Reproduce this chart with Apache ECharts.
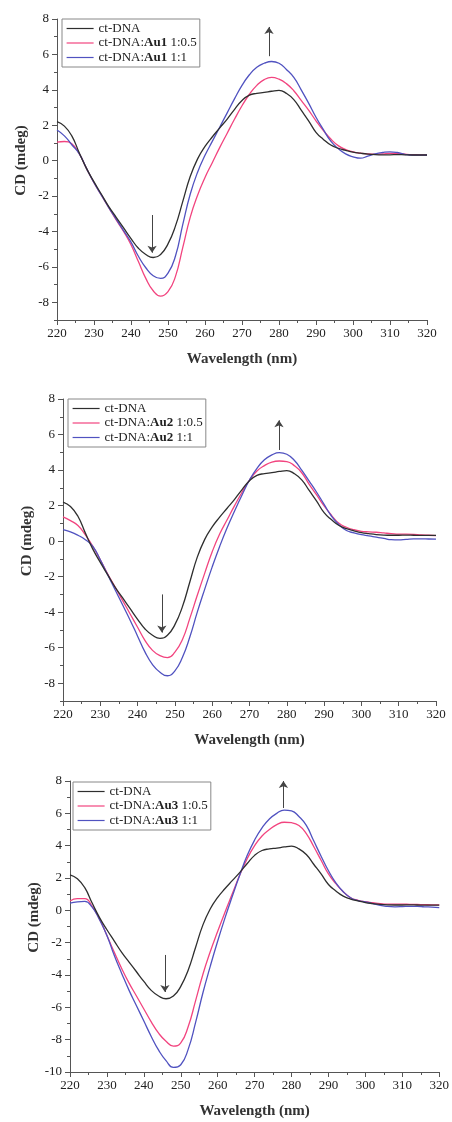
<!DOCTYPE html>
<html>
<head>
<meta charset="utf-8">
<script src="https://cdn.jsdelivr.net/npm/echarts@6/dist/echarts.min.js"></script>
<style>
  html, body { margin: 0; padding: 0; background: #fff; }
  #chart { width: 452px; height: 1122px; }
</style>
</head>
<body>
<div id="chart"></div>
<script>
// wavelength grid (nm)
const wavelengths = [220, 222, 224, 226, 228, 230, 232, 234, 236, 238, 240, 242, 244, 246, 248, 250, 252, 254, 256, 258,
  260, 262, 264, 266, 268, 270, 272, 274, 276, 278, 280, 282, 284, 286, 288, 290, 292, 294, 296, 298,
  300, 302, 304, 306, 308, 310, 312, 314, 316, 318, 320]

// ct-DNA alone (same in all three panels)
const ctDna = [2.2, 1.95, 1.4, 0.45, -0.45, -1.2, -1.9, -2.6, -3.2, -3.8, -4.4, -4.95, -5.3, -5.47, -5.3, -4.7, -3.7, -2.3, -0.9, 0.1,
  0.8, 1.35, 1.85, 2.35, 2.9, 3.4, 3.7, 3.8, 3.85, 3.92, 3.97, 3.8, 3.45, 2.85, 2.25, 1.6, 1.2, 0.88, 0.7, 0.58,
  0.48, 0.42, 0.37, 0.34, 0.33, 0.33, 0.34, 0.33, 0.32, 0.32, 0.32]

// Au1
const au1Half = [1.05, 1.08, 0.95, 0.4, -0.45, -1.25, -1.95, -2.65, -3.35, -4.0, -4.75, -5.7, -6.65, -7.35, -7.65, -7.4, -6.55, -4.9, -3.2, -1.95,
  -0.95, -0.1, 0.75, 1.55, 2.35, 3.1, 3.75, 4.25, 4.58, 4.7, 4.6, 4.35, 3.95, 3.4, 2.85, 2.25, 1.7, 1.22, 0.85, 0.63,
  0.5, 0.42, 0.38, 0.37, 0.38, 0.41, 0.41, 0.37, 0.34, 0.33, 0.32]
const au1Full = [1.73, 1.4, 0.9, 0.4, -0.45, -1.25, -1.95, -2.65, -3.3, -3.95, -4.6, -5.4, -6.05, -6.5, -6.65, -6.35, -5.4, -3.6, -1.9, -0.65,
  0.3, 1.1, 1.9, 2.7, 3.5, 4.25, 4.85, 5.28, 5.5, 5.6, 5.5, 5.15, 4.7, 4.0, 3.25, 2.45, 1.75, 1.1, 0.68, 0.38,
  0.22, 0.14, 0.25, 0.38, 0.46, 0.5, 0.46, 0.36, 0.31, 0.31, 0.32]

// Au2
const au2Half = [1.36, 1.15, 0.88, 0.35, -0.29, -1.05, -1.85, -2.6, -3.35, -4.1, -4.85, -5.6, -6.15, -6.45, -6.56, -6.25, -5.55, -4.35, -3.05, -1.8,
  -0.6, 0.4, 1.2, 2.0, 2.75, 3.44, 3.95, 4.25, 4.45, 4.51, 4.48, 4.25, 3.85, 3.2, 2.6, 1.98, 1.45, 1.0, 0.78, 0.64,
  0.55, 0.52, 0.5, 0.46, 0.42, 0.39, 0.39, 0.38, 0.35, 0.33, 0.31]
const au2Full = [0.65, 0.52, 0.33, 0.08, -0.29, -1.05, -1.9, -2.75, -3.6, -4.45, -5.35, -6.25, -6.95, -7.38, -7.58, -7.3, -6.55, -5.4, -4.0, -2.7,
  -1.45, -0.3, 0.75, 1.7, 2.6, 3.44, 4.1, 4.58, 4.85, 4.98, 4.89, 4.55, 4.0, 3.38, 2.75, 2.07, 1.4, 0.92, 0.6, 0.46,
  0.36, 0.3, 0.22, 0.15, 0.08, 0.07, 0.1, 0.13, 0.13, 0.12, 0.11]

// Au3
const au3Half = [0.58, 0.72, 0.72, 0.25, -0.55, -1.55, -2.6, -3.6, -4.5, -5.3, -6.1, -6.9, -7.6, -8.1, -8.4, -8.2, -7.2, -5.6, -3.95, -2.55,
  -1.3, -0.1, 1.05, 2.2, 3.2, 4.0, 4.6, 5.0, 5.3, 5.45, 5.42, 5.25, 4.75, 3.95, 3.1, 2.25, 1.65, 1.15, 0.78, 0.62,
  0.53, 0.47, 0.41, 0.38, 0.38, 0.38, 0.37, 0.36, 0.35, 0.34, 0.34]
const au3Full = [0.44, 0.52, 0.55, 0.2, -0.58, -1.55, -2.8, -3.9, -4.95, -5.9, -6.85, -7.8, -8.65, -9.3, -9.72, -9.55, -8.6, -6.95, -5.1, -3.45,
  -1.9, -0.45, 0.9, 2.2, 3.4, 4.35, 5.1, 5.65, 6.0, 6.2, 6.15, 5.8, 5.25, 4.3, 3.35, 2.45, 1.7, 1.15, 0.78, 0.6,
  0.52, 0.42, 0.3, 0.24, 0.22, 0.23, 0.25, 0.25, 0.22, 0.2, 0.17]

const complexes = ['Au1', 'Au2', 'Au3']
const halfSeries = [au1Half, au2Half, au3Half]
const fullSeries = [au1Full, au2Full, au3Full]

// arrows: [wavelength, from, to]
const downArrows = [[245.7, -3.07, -5.2], [246.5, -3.0, -5.15], [245.7, -2.76, -5.05]]
const upArrows = [[277.3, 5.9, 7.55], [277.9, 5.13, 6.8], [277.8, 6.33, 8]]

// y ranges
const yMins = [-9, -9, -10]
const yMax = 8
const yLabelValues = [[-8, -6, -4, -2, 0, 2, 4, 6, 8], [-8, -6, -4, -2, 0, 2, 4, 6, 8], [-10, -8, -6, -4, -2, 0, 2, 4, 6, 8]]
const yMinorValues = [[-9, -7, -5, -3, -1, 1, 3, 5, 7], [-9, -7, -5, -3, -1, 1, 3, 5, 7], [-9, -7, -5, -3, -1, 1, 3, 5, 7]]

const serif = 'Liberation Serif'
const axisColor = '#555'
const colors = { dna: '#2e2e2e', half: '#f2447f', full: '#5052c0' }

// page layout of each panel
const grids = [
  { left: 57, top: 19, width: 370, height: 301 },
  { left: 63, top: 399, width: 373, height: 302 },
  { left: 70, top: 781, width: 374, height: 291 },
]
const legends = [
  { left: 62, top: 19 },
  { left: 68, top: 399 },
  { left: 73, top: 782 },
]

const pairs = (ys) => wavelengths.map((x, i) => [x, ys[i]])

const option = {
  animation: false,
  backgroundColor: '#fff',
  grid: grids,
  xAxis: [],
  yAxis: [],
  legend: [],
  series: [],
}

grids.forEach((g, k) => {
  option.xAxis.push({
    type: 'value', gridIndex: k, min: 220, max: 320, interval: 10,
    name: 'Wavelength (nm)', nameLocation: 'middle', nameGap: 32,
    nameTextStyle: { fontFamily: serif, fontWeight: 'bold', fontSize: 15, color: '#333' },
    axisLine: { onZero: false, lineStyle: { color: axisColor, width: 1 } },
    axisTick: { inside: false, length: 5, lineStyle: { color: axisColor } },
    minorTick: { show: true, splitNumber: 2, length: 3, lineStyle: { color: axisColor } },
    splitLine: { show: false },
    axisLabel: { fontFamily: serif, fontSize: 13, color: '#222', margin: 7 },
  })
  // main y axis with labels on even values
  option.yAxis.push({
    type: 'value', gridIndex: k, min: yMins[k], max: yMax,
    name: 'CD (mdeg)', nameLocation: 'middle', nameGap: 28, nameMoveOverlap: false,
    nameTextStyle: { fontFamily: serif, fontWeight: 'bold', fontSize: 15, color: '#333', padding: [0, 0, 0, 18] },
    axisLine: { show: true, onZero: false, lineStyle: { color: axisColor, width: 1 } },
    axisTick: { show: true, length: 5, customValues: yLabelValues[k], lineStyle: { color: axisColor } },
    axisLabel: { customValues: yLabelValues[k], fontFamily: serif, fontSize: 13, color: '#222', margin: 8 },
    splitLine: { show: false },
  })
  // helper y axis only for the short odd ticks
  option.yAxis.push({
    type: 'value', gridIndex: k, min: yMins[k], max: yMax, position: 'left',
    axisLine: { show: false, onZero: false },
    axisTick: { show: true, length: 3, customValues: yMinorValues[k], lineStyle: { color: axisColor } },
    axisLabel: { show: false },
    splitLine: { show: false },
  })

  const c = complexes[k]
  const names = ['ct-DNA', 'ct-DNA:' + c + ' 1:0.5', 'ct-DNA:' + c + ' 1:1']

  option.legend.push({
    orient: 'vertical', left: legends[k].left, top: legends[k].top,
    data: names,
    itemWidth: 27, itemHeight: 14, itemGap: 1.5,
    padding: [3, 3, 3, 4],
    borderColor: '#888', borderWidth: 1, borderRadius: 0, backgroundColor: '#fff',
    selectedMode: false,
    itemStyle: { opacity: 0 },
    lineStyle: { width: 1.2 },
    formatter: (n) => n.replace(/(Au\d)/, '{b|$1}'),
    textStyle: {
      fontFamily: serif, fontSize: 13, color: '#222',
      rich: { b: { fontFamily: serif, fontSize: 13, fontWeight: 'bold', color: '#222' } },
    },
  })

  const base = { type: 'line', xAxisIndex: k, yAxisIndex: 2 * k, symbol: 'none', smooth: 0.5, clip: false }
  option.series.push({
    ...base, name: names[0], data: pairs(ctDna), z: 3,
    lineStyle: { color: colors.dna, width: 1.3 }, itemStyle: { color: colors.dna },
    markLine: {
      silent: true, symbol: ['none', 'arrow'], symbolSize: 7,
      label: { show: false },
      lineStyle: { color: '#444', width: 1, type: 'solid' },
      data: [
        [{ coord: [downArrows[k][0], downArrows[k][1]] }, { coord: [downArrows[k][0], downArrows[k][2]] }],
        [{ coord: [upArrows[k][0], upArrows[k][1]] }, { coord: [upArrows[k][0], upArrows[k][2]] }],
      ],
    },
  })
  option.series.push({
    ...base, name: names[1], data: pairs(halfSeries[k]), z: 2,
    lineStyle: { color: colors.half, width: 1.3 }, itemStyle: { color: colors.half },
  })
  option.series.push({
    ...base, name: names[2], data: pairs(fullSeries[k]), z: 2,
    lineStyle: { color: colors.full, width: 1.3 }, itemStyle: { color: colors.full },
  })
})

echarts.init(document.getElementById('chart')).setOption(option)
</script>
</body>
</html>
